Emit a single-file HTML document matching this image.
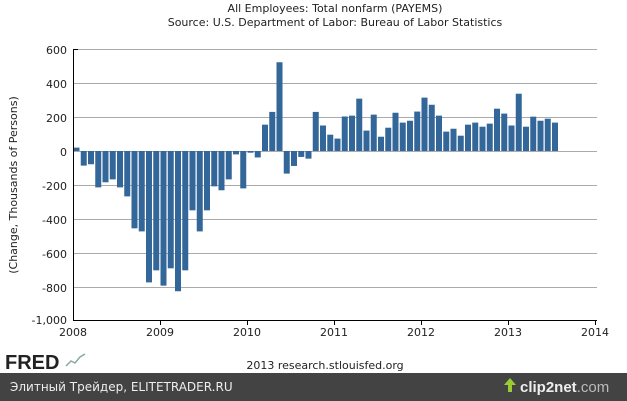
<!DOCTYPE html>
<html><head><meta charset="utf-8"><style>
body{margin:0;background:#fff;width:627px;height:401px;overflow:hidden}
svg{display:block}
text{font-family:"DejaVu Sans","Liberation Sans",sans-serif;fill:#222}
</style></head><body>
<svg width="627" height="401" viewBox="0 0 627 401" xmlns="http://www.w3.org/2000/svg">
<rect width="627" height="401" fill="#fff"/>
<text x="335" y="12" font-size="11" text-anchor="middle">All Employees: Total nonfarm (PAYEMS)</text>
<text x="335" y="26" font-size="11" text-anchor="middle">Source: U.S. Department of Labor: Bureau of Labor Statistics</text>
<g stroke="#aaa" stroke-width="1">
<line x1="73" x2="597" y1="49.5" y2="49.5"/><line x1="73" x2="597" y1="83.5" y2="83.5"/>
<line x1="73" x2="597" y1="117.5" y2="117.5"/><line x1="73" x2="597" y1="151.5" y2="151.5"/>
<line x1="73" x2="597" y1="185.5" y2="185.5"/><line x1="73" x2="597" y1="219.5" y2="219.5"/>
<line x1="73" x2="597" y1="253.5" y2="253.5"/><line x1="73" x2="597" y1="287.5" y2="287.5"/>
</g>
<g font-size="11" text-anchor="end">
<text x="67" y="54">600</text><text x="67" y="88">400</text><text x="67" y="122">200</text>
<text x="67" y="156">0</text><text x="67" y="190">-200</text><text x="67" y="224">-400</text>
<text x="67" y="258">-600</text><text x="67" y="292">-800</text><text x="67" y="324">-1,000</text>
</g>
<g font-size="11" text-anchor="middle">
<text x="73" y="336">2008</text><text x="160" y="336">2009</text><text x="247" y="336">2010</text>
<text x="334" y="336">2011</text><text x="421" y="336">2012</text><text x="508" y="336">2013</text><text x="595" y="336">2014</text>
</g>
<text transform="translate(17,185) rotate(-90)" font-size="11" text-anchor="middle">(Change, Thousands of Persons)</text>
<g id="bars" fill="#336699"></g>
<g stroke="#000" stroke-width="1">
<line x1="73.5" y1="49" x2="73.5" y2="320"/><line x1="73" y1="320.5" x2="597" y2="320.5"/>
<line x1="73" y1="49.5" x2="78" y2="49.5"/>
<line x1="160.5" y1="320" x2="160.5" y2="325"/><line x1="247.5" y1="320" x2="247.5" y2="325"/>
<line x1="334.5" y1="320" x2="334.5" y2="325"/><line x1="421.5" y1="320" x2="421.5" y2="325"/>
<line x1="508.5" y1="320" x2="508.5" y2="325"/><line x1="595.5" y1="320" x2="595.5" y2="325"/>
</g>
<text x="5" y="369" font-size="20" font-weight="bold" font-family="Liberation Sans" style="font-family:'Liberation Sans',sans-serif" fill="#222">FRED</text>
<polyline points="66,366 71,361 75,363 80,357 85,354" fill="none" stroke="#8a9" stroke-width="1.5"/>
<text x="325" y="369" font-size="11" text-anchor="middle">2013 research.stlouisfed.org</text>
<rect x="0" y="373" width="627" height="28" fill="#434343"/>
<text x="10" y="391" font-size="12" fill="#eee" style="fill:#eee">Элитный Трейдер, ELITETRADER.RU</text>
<polygon points="508,392 508,385 504,385 510,378 516,385 512,385 512,392" fill="#9c3"/>
<text x="520" y="392" font-size="15" font-weight="bold" style="fill:#eee;font-family:'Liberation Sans',sans-serif">clip2net<tspan style="fill:#bbb;font-weight:normal">.com</tspan></text>
</svg>
<script>
var v=[20,-86,-78,-214,-184,-167,-214,-267,-455,-473,-773,-702,
-792,-690,-825,-702,-349,-473,-349,-208,-231,-167,-20,-220,
-10,-38,155,230,522,-133,-88,-35,-45,230,150,96,
73,203,208,308,120,214,84,137,225,167,178,232,
314,272,208,114,131,90,155,167,143,161,249,220,
150,337,143,202,178,190,167];
var g=document.getElementById('bars'),s='';
for(var i=0;i<v.length;i++){var x=73.5+i*7.25,y0=151,h=v[i]*0.17;
var y=h>0?y0-h:y0;s+='<rect x="'+x.toFixed(2)+'" y="'+y.toFixed(2)+'" width="6" height="'+Math.abs(h).toFixed(2)+'"/>';}
g.innerHTML=s;
</script>
</body></html>
